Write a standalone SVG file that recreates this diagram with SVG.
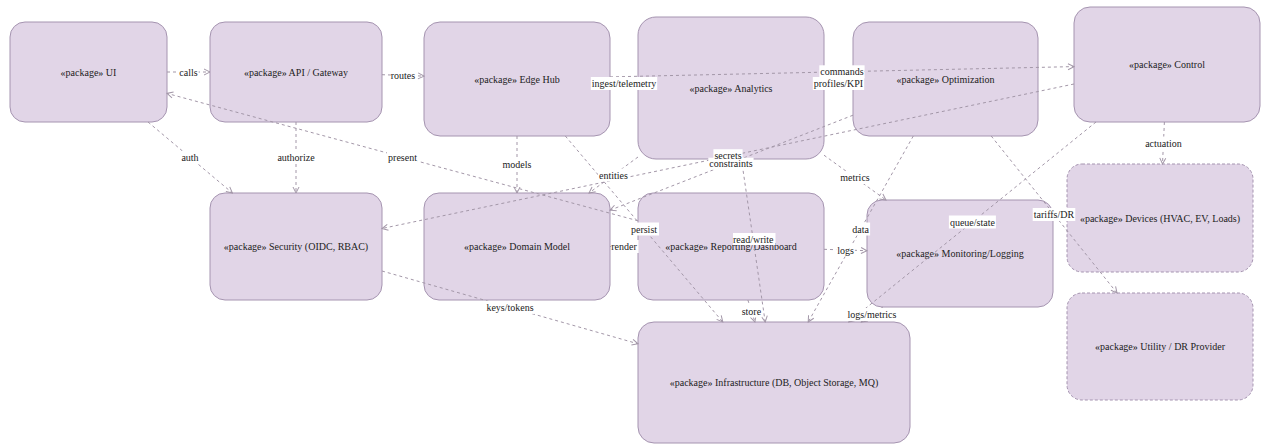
<svg xmlns="http://www.w3.org/2000/svg" width="1267" height="444" viewBox="0 0 1267 444">
  <style>
    .pkg { fill: #e1d5e7; stroke: #a594b0; stroke-width: 1; }
    .ext { stroke-dasharray: 3 2; }
    .name { font-size: 10px; fill: #222; text-anchor: middle; dominant-baseline: central; }
    .dep { stroke: #a397a8; stroke-width: 1; stroke-dasharray: 3 3; fill: none; marker-end: url(#open); }
    .lbl-bg { fill: #ffffff; }
    .lbl { font-size: 10px; fill: #222; text-anchor: middle; dominant-baseline: central; }
  </style>
  <defs>
    <marker id="open" viewBox="0 0 8 8" refX="7" refY="4" markerWidth="8" markerHeight="8" markerUnits="userSpaceOnUse" orient="auto">
      <path d="M1,1 L7,4 L1,7" fill="none" stroke="#a397a8" stroke-width="1"/>
    </marker>
  </defs>

  <rect width="1267" height="444" fill="#ffffff"/>

  <!-- packages -->
  <g id="packages" font-family="'Liberation Serif', 'Times New Roman', serif">
    <g id="ui"><rect class="pkg" x="10" y="22" width="157" height="100" rx="15"/><text class="name" x="88.5" y="72">«package» UI</text></g>
    <g id="api-gateway"><rect class="pkg" x="210" y="22" width="172" height="100" rx="15"/><text class="name" x="296" y="72">«package» API / Gateway</text></g>
    <g id="edge-hub"><rect class="pkg" x="424" y="22" width="186" height="114" rx="16"/><text class="name" x="517" y="79">«package» Edge Hub</text></g>
    <g id="analytics"><rect class="pkg" x="638" y="17" width="186" height="142" rx="18"/><text class="name" x="731" y="88">«package» Analytics</text></g>
    <g id="optimization"><rect class="pkg" x="853" y="22" width="185" height="114" rx="16"/><text class="name" x="945.5" y="79">«package» Optimization</text></g>
    <g id="control"><rect class="pkg" x="1074" y="7" width="186" height="115" rx="16"/><text class="name" x="1167" y="64.5">«package» Control</text></g>
    <g id="security"><rect class="pkg" x="210" y="193" width="172" height="107" rx="15"/><text class="name" x="296" y="246.5">«package» Security (OIDC, RBAC)</text></g>
    <g id="domain-model"><rect class="pkg" x="424" y="193" width="186" height="107" rx="15"/><text class="name" x="517" y="246.5">«package» Domain Model</text></g>
    <g id="reporting"><rect class="pkg" x="638" y="193" width="186" height="107" rx="15"/><text class="name" x="731" y="246.5">«package» Reporting/Dashboard</text></g>
    <g id="monitoring"><rect class="pkg" x="867" y="200" width="186" height="107" rx="15"/><text class="name" x="960" y="253.5">«package» Monitoring/Logging</text></g>
    <g id="devices"><rect class="pkg ext" x="1067" y="164" width="186" height="108" rx="15"/><text class="name" x="1160" y="218">«package» Devices (HVAC, EV, Loads)</text></g>
    <g id="utility"><rect class="pkg ext" x="1067" y="293" width="186" height="107" rx="15"/><text class="name" x="1160" y="346.5">«package» Utility / DR Provider</text></g>
    <g id="infrastructure"><rect class="pkg" x="638" y="322" width="272" height="121" rx="16"/><text class="name" x="774" y="382.5">«package» Infrastructure (DB, Object Storage, MQ)</text></g>
  </g>

  <!-- dependencies -->
  <g id="connectors" font-family="'Liberation Serif', 'Times New Roman', serif">
    <line class="dep" x1="167" y1="72" x2="210" y2="72"/>
    <line class="dep" x1="382" y1="74.7" x2="424" y2="76.1"/>
    <line class="dep" x1="610" y1="82.9" x2="638" y2="84.1"/>
    <line class="dep" x1="610" y1="76.9" x2="1074" y2="66.6"/>
    <line class="dep" x1="824" y1="84.1" x2="853" y2="82.9"/>
    <line class="dep" x1="148" y1="122" x2="232.4" y2="193"/>
    <line class="dep" x1="296" y1="122" x2="296" y2="193"/>
    <line class="dep" x1="638" y1="220.8" x2="167" y2="93.4"/>
    <line class="dep" x1="517" y1="136" x2="517" y2="193"/>
    <line class="dep" x1="638" y1="157" x2="589" y2="193"/>
    <line class="dep" x1="1074" y1="84" x2="382" y2="228.5"/>
    <line class="dep" x1="853" y1="115.2" x2="610" y2="210.2"/>
    <line class="dep" x1="824" y1="155.2" x2="886" y2="200"/>
    <line class="dep" x1="1164.4" y1="122" x2="1162.5" y2="164"/>
    <line class="dep" x1="565.3" y1="136" x2="722.8" y2="322"/>
    <line class="dep" x1="610" y1="246.5" x2="638" y2="246.5"/>
    <line class="dep" x1="741.4" y1="159" x2="765.2" y2="322"/>
    <line class="dep" x1="913.3" y1="136" x2="808.2" y2="322"/>
    <line class="dep" x1="824" y1="249.3" x2="867" y2="250.7"/>
    <line class="dep" x1="1096" y1="122" x2="848.7" y2="322"/>
    <line class="dep" x1="991.2" y1="136" x2="1117" y2="293"/>
    <line class="dep" x1="382" y1="271" x2="638" y2="343.8"/>
    <line class="dep" x1="747.9" y1="300" x2="754.9" y2="322"/>
    <line class="dep" x1="882.9" y1="307" x2="861.3" y2="322"/>

    <!-- labels -->
    <rect class="lbl-bg" x="178.3" y="65.5" width="20.3" height="13"/><text class="lbl" x="188.5" y="72">calls</text>
    <rect class="lbl-bg" x="390.8" y="68.9" width="26.4" height="13"/><text class="lbl" x="403" y="75.4">routes</text>
    <rect class="lbl-bg" x="590.8" y="77" width="66.4" height="13"/><text class="lbl" x="624" y="83.5">ingest/telemetry</text>
    <rect class="lbl-bg" x="819.3" y="65.3" width="45.3" height="13"/><text class="lbl" x="842" y="71.8">commands</text>
    <rect class="lbl-bg" x="812.8" y="77" width="51.4" height="13"/><text class="lbl" x="838.5" y="83.5">profiles/KPI</text>
    <rect class="lbl-bg" x="180.4" y="151" width="19.2" height="13"/><text class="lbl" x="190" y="157.5">auth</text>
    <rect class="lbl-bg" x="276.4" y="151" width="39.2" height="13"/><text class="lbl" x="296" y="157.5">authorize</text>
    <rect class="lbl-bg" x="387" y="150.5" width="30.9" height="13"/><text class="lbl" x="402.5" y="157">present</text>
    <rect class="lbl-bg" x="501.5" y="158" width="30.9" height="13"/><text class="lbl" x="517" y="164.5">models</text>
    <rect class="lbl-bg" x="598" y="168.5" width="30.9" height="13"/><text class="lbl" x="613.5" y="175">entities</text>
    <rect class="lbl-bg" x="708.3" y="157.7" width="45.3" height="12"/><text class="lbl" x="731" y="163.7">constraints</text>
    <rect class="lbl-bg" x="713.4" y="149.2" width="29.2" height="11"/><text class="lbl" x="728" y="155">secrets</text>
    <rect class="lbl-bg" x="839.3" y="171.1" width="31.4" height="13"/><text class="lbl" x="855" y="177.6">metrics</text>
    <rect class="lbl-bg" x="1144.2" y="136.5" width="38.7" height="13"/><text class="lbl" x="1163.5" y="143">actuation</text>
    <rect class="lbl-bg" x="630.9" y="222.5" width="28.1" height="13"/><text class="lbl" x="644" y="229">persist</text>
    <rect class="lbl-bg" x="611.2" y="240" width="27.5" height="13"/><text class="lbl" x="624" y="246.5">render</text>
    <rect class="lbl-bg" x="733" y="233" width="42.5" height="12"/><text class="lbl" x="753.3" y="239">read/write</text>
    <rect class="lbl-bg" x="851.4" y="222.5" width="18.7" height="13"/><text class="lbl" x="860.7" y="229">data</text>
    <rect class="lbl-bg" x="836.2" y="243.5" width="18.7" height="13"/><text class="lbl" x="845.5" y="250">logs</text>
    <rect class="lbl-bg" x="948.9" y="215.5" width="47" height="13"/><text class="lbl" x="972.4" y="222">queue/state</text>
    <rect class="lbl-bg" x="1032.7" y="208" width="42.6" height="13"/><text class="lbl" x="1054" y="214.5">tariffs/DR</text>
    <rect class="lbl-bg" x="485.4" y="300.9" width="49.2" height="13"/><text class="lbl" x="510" y="307.4">keys/tokens</text>
    <rect class="lbl-bg" x="740.7" y="304.5" width="21.4" height="13"/><text class="lbl" x="751.4" y="311">store</text>
    <rect class="lbl-bg" x="846.5" y="308" width="50.9" height="13"/><text class="lbl" x="872" y="314.5">logs/metrics</text>
  </g>
</svg>
